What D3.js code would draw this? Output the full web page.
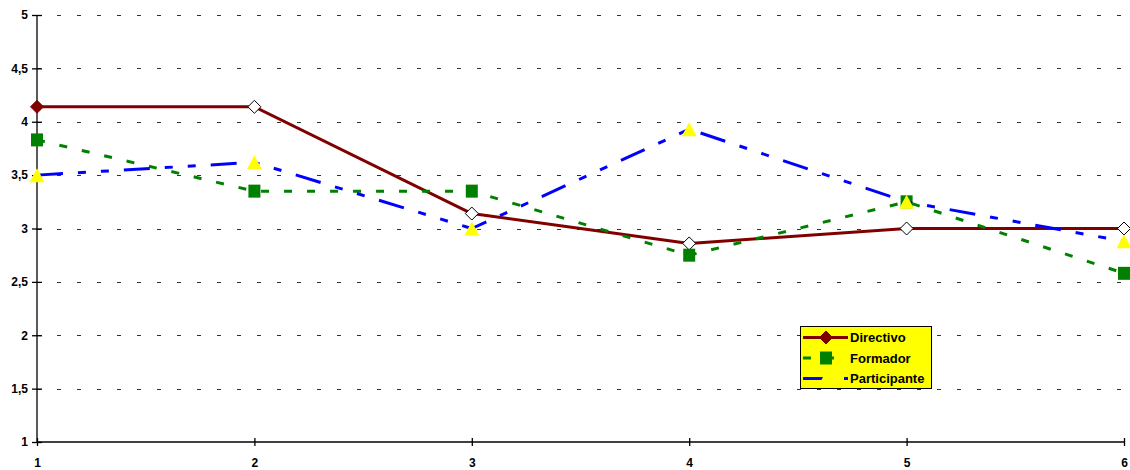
<!DOCTYPE html>
<html>
<head>
<meta charset="utf-8">
<script src="https://cdn.jsdelivr.net/npm/d3@7"></script>
<style>
  html, body { margin: 0; padding: 0; background: #fff; }
  svg { display: block; font-family: Arial, "Liberation Sans", sans-serif; }
</style>
</head>
<body>
<svg id="chart" width="1130" height="470"></svg>
<script>
// Categories on the x axis and the three series
const categories = [1, 2, 3, 4, 5, 6];
const directivo = [4.14, 4.14, 3.14, 2.86, 3.0, 3.0];
const formador = [3.83, 3.35, 3.35, 2.75, 3.25, 2.58];
const participante = [3.5, 3.62, 3.0, 3.93, 3.25, 2.88];

const seriesNames = ["Directivo", "Formador", "Participante"];
const yTicks = [1, 1.5, 2, 2.5, 3, 3.5, 4, 4.5, 5];
const yTickLabels = ["1", "1,5", "2", "2,5", "3", "3,5", "4", "4,5", "5"];
const xTickLabels = ["1", "2", "3", "4", "5", "6"];

const svg = d3.select("#chart");

const x = d3.scaleLinear().domain([1, 6]).range([37, 1124]);
const y = d3.scaleLinear().domain([1, 5]).range([442, 15]);

// Dashed horizontal gridlines
svg.append("g")
  .selectAll("line")
  .data(yTicks.filter(v => v > 1))
  .join("line")
  .attr("x1", x(1))
  .attr("x2", x(6))
  .attr("y1", d => Math.round(y(d)) + 0.5)
  .attr("y2", d => Math.round(y(d)) + 0.5)
  .attr("stroke", "#333")
  .attr("stroke-width", 1)
  .attr("stroke-dasharray", "4,16");

// Y axis
const yAxis = svg.append("g")
  .attr("transform", `translate(${x(1)},0)`)
  .call(d3.axisLeft(y)
    .tickValues(yTicks)
    .tickFormat((d, i) => yTickLabels[i])
    .tickSize(5)
    .tickPadding(4));
yAxis.select(".domain").remove();
yAxis.selectAll(".tick line").attr("x1", 5).attr("x2", -5).attr("stroke", "#000").attr("stroke-width", 1.3);
yAxis.selectAll(".tick text")
  .attr("font-size", 12).attr("font-weight", "bold").attr("fill", "#000")
  .attr("font-family", "Arial, 'Liberation Sans', sans-serif");
yAxis.append("line")
  .attr("x1", 0).attr("x2", 0)
  .attr("y1", y(5)).attr("y2", y(1))
  .attr("stroke", "#000").attr("stroke-width", 1.3);

// X axis
const xAxis = svg.append("g")
  .attr("transform", `translate(0,${y(1)})`)
  .call(d3.axisBottom(x)
    .tickValues(categories)
    .tickFormat((d, i) => xTickLabels[i])
    .tickSize(4));
xAxis.select(".domain").remove();
xAxis.selectAll(".tick line").attr("y1", -4).attr("y2", 4).attr("stroke", "#000").attr("stroke-width", 1.3);
xAxis.selectAll(".tick text")
  .attr("y", 25).attr("dy", 0)
  .attr("font-size", 12).attr("font-weight", "bold").attr("fill", "#000")
  .attr("font-family", "Arial, 'Liberation Sans', sans-serif");
xAxis.append("line")
  .attr("x1", x(1)).attr("x2", x(6))
  .attr("y1", 0).attr("y2", 0)
  .attr("stroke", "#000").attr("stroke-width", 1.3);

// Series styles
const styles = {
  Directivo:    { color: "#800000", dash: null, marker: "diamond" },
  Formador:     { color: "#008000", dash: "8,15", marker: "square" },
  Participante: { color: "#0000FF", dash: "26,15,8,15,8,15", marker: "triangle" }
};

function markerPath(type) {
  if (type === "diamond") return "M0,-6.5L6.5,0L0,6.5L-6.5,0Z";
  if (type === "square") return "M-6,-6.5L6,-6.5L6,6.5L-6,6.5Z";
  return "M0,-7L7.5,7L-7.5,7Z";
}

function drawMarker(g, type, cx, cy, first) {
  const p = g.append("path")
    .attr("transform", `translate(${cx},${cy})`)
    .attr("d", markerPath(type));
  if (type === "diamond") {
    p.attr("fill", first ? "#800000" : "#fff")
     .attr("stroke", first ? "#800000" : "#000")
     .attr("stroke-width", 1);
  } else if (type === "square") {
    p.attr("fill", "#008000").attr("stroke", "none");
  } else {
    p.attr("fill", "#FFFF00").attr("stroke", "none");
  }
}

const line = d3.line().x((d, i) => x(categories[i])).y(d => y(d));

const seriesData = [directivo, formador, participante];
seriesData.forEach((vals, si) => {
  const st = styles[seriesNames[si]];
  const g = svg.append("g");
  g.append("path")
    .datum(vals)
    .attr("d", line)
    .attr("fill", "none")
    .attr("stroke", st.color)
    .attr("stroke-width", 3)
    .attr("stroke-dasharray", st.dash)
    .attr("stroke-linejoin", "round");
  vals.forEach((v, i) => drawMarker(g, st.marker, x(categories[i]), y(v), i === 0));
});

// Legend
const legend = svg.append("g").attr("transform", "translate(800.5,326.5)");
legend.append("rect")
  .attr("width", 131).attr("height", 62)
  .attr("fill", "#FFFF00").attr("stroke", "#000").attr("stroke-width", 1);
seriesNames.forEach((name, i) => {
  const st = styles[name];
  const cy = 11 + i * 20.5;
  const row = legend.append("g");
  row.append("line")
    .attr("x1", 2.5).attr("x2", 47.5)
    .attr("y1", cy).attr("y2", cy)
    .attr("stroke", st.color).attr("stroke-width", 3)
    .attr("stroke-dasharray", st.dash);
  drawMarker(row, st.marker, 25.5, cy, name === "Directivo");
  row.append("text")
    .attr("x", 49.5).attr("y", cy + 4.5)
    .attr("font-size", 13).attr("font-weight", "bold").attr("fill", "#000")
    .text(name);
});
</script>
</body>
</html>
